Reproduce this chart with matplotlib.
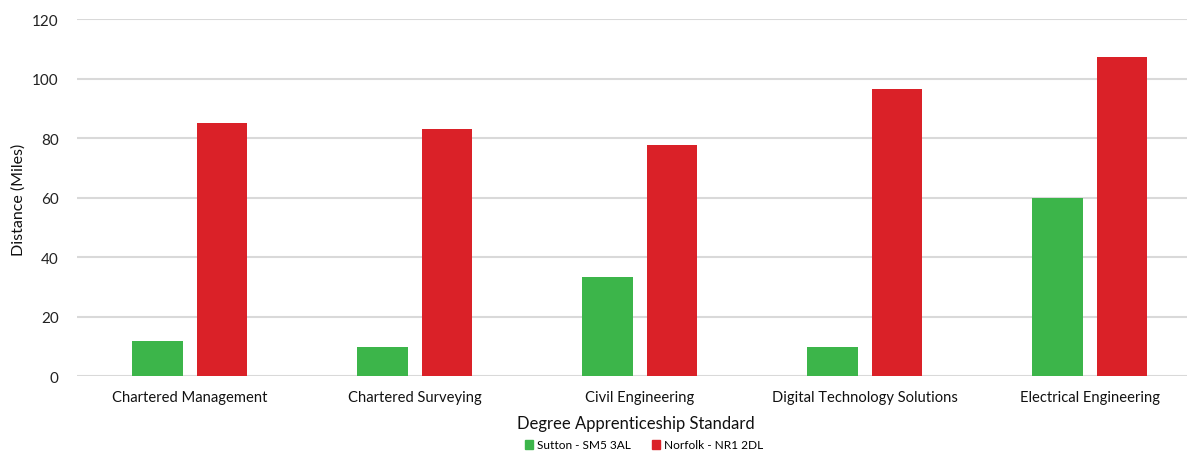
import matplotlib
matplotlib.use("Agg")
import matplotlib.pyplot as plt
import numpy as np
from matplotlib.patches import Patch

categories = ["Chartered Management", "Chartered Surveying", "Civil Engineering",
              "Digital Technology Solutions", "Electrical Engineering"]
sutton = [12, 10, 33.3, 10, 60]
norfolk = [85, 83, 77.7, 96.4, 107.4]
series_names = ["Sutton - SM5 3AL", "Norfolk - NR1 2DL"]
yticks = [0, 20, 40, 60, 80, 100, 120]

plt.rcParams['font.family'] = ['Lato', 'DejaVu Sans']

W, H = 1187, 452
fig = plt.figure(figsize=(W/100, H/100), dpi=100)
ax = fig.add_axes([77.3/W, 74.7/H, 1125/W, 357.3/H])

green = "#3cb54a"
red = "#da2128"
x = np.arange(len(categories))
bw = 0.225
off = 0.143
ax.bar(x - off, sutton, bw, color=green, zorder=3)
ax.bar(x + off, norfolk, bw, color=red, zorder=3)

ax.set_xlim(-0.5, len(categories) - 0.5)
ax.set_ylim(0, 120)
ax.set_yticks(yticks)
ax.set_yticklabels([str(v) for v in yticks], fontsize=11, color="#222222")
ax.set_xticks(x)
ax.set_xticklabels(categories, fontsize=10.6, color="#111111")
ax.tick_params(length=0)
ax.tick_params(axis='y', pad=13.5)
ax.tick_params(axis='x', pad=10)
ax.grid(axis='y', color="#d9d9d9", linewidth=1.5, zorder=0)
for s in ax.spines.values():
    s.set_visible(False)

fig.text(19/W, 1 - 200/H, "Distance (Miles)", fontsize=11.5, color="#111111",
         rotation=90, ha='center', va='center')
fig.text(636/W, 1 - 424/H, "Degree Apprenticeship Standard", fontsize=12,
         ha='center', va='center', color="#111111")

handles = [Patch(color=green), Patch(color=red)]
fig.legend(handles, series_names, loc='center', bbox_to_anchor=(644/W, 1 - 446/H),
           ncol=2, frameon=False, fontsize=8.6, handlelength=0.7, handleheight=0.7,
           handletextpad=0.3, columnspacing=1.8)

fig.savefig("out.png", dpi=100)
